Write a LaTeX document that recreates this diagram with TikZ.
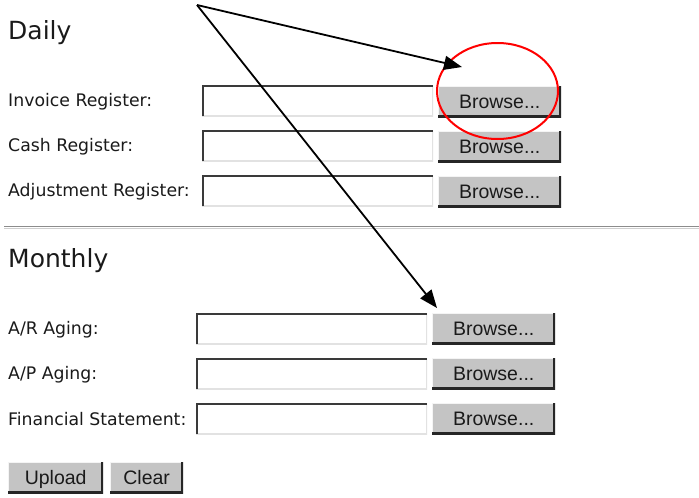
\documentclass[tikz,border=0pt]{standalone}
\usepackage{fontspec}
\setmainfont{DejaVu Sans}
\newfontfamily\btnfont{Liberation Sans}
\usetikzlibrary{arrows.meta,shapes.geometric}
\definecolor{fielddark}{HTML}{3A3A3A}
\definecolor{fieldlight}{HTML}{E2E2E2}
\definecolor{btngray}{HTML}{C4C4C4}
\definecolor{btnlight}{HTML}{F4F4F4}
\definecolor{sepdark}{HTML}{8C8C8C}
\definecolor{seplight}{HTML}{CFCFCF}
\definecolor{txt}{HTML}{1A1A1A}
\begin{document}
\begin{tikzpicture}[x=1pt,y=-1pt,
  heading/.style={anchor=base west,inner sep=0,text=txt,font=\fontsize{25}{29}\selectfont},
  lbl/.style={anchor=base west,inner sep=0,text=txt,font=\fontsize{17.3}{20}\selectfont},
  field/.style={anchor=north west,inner sep=0,minimum width=231pt,minimum height=31pt,fill=white,
    path picture={
      \draw[line width=2.4pt,fieldlight] (path picture bounding box.south west) -- (path picture bounding box.south east) -- (path picture bounding box.north east);
      \draw[line width=4pt,fielddark] (path picture bounding box.south west) -- (path picture bounding box.north west) -- (path picture bounding box.north east);
    }},
  btn/.style={anchor=north west,inner sep=0,minimum height=31pt,fill=btngray,text=txt,
    font=\btnfont\fontsize{19.5}{22}\selectfont,text height=13.8pt,text depth=0pt,
    path picture={
      \draw[line width=2.4pt,btnlight] (path picture bounding box.south west) -- (path picture bounding box.north west) -- (path picture bounding box.north east);
      \draw[line width=4pt,black!85] (path picture bounding box.south west) -- (path picture bounding box.south east) -- (path picture bounding box.north east);
    }},
  browse/.style={btn,minimum width=123pt},
  pointer/.style={draw=black,line width=1.8pt,-{Triangle[length=18pt,width=14pt]}},
  ring/.style={ellipse,draw=red,line width=2pt,inner sep=0}
]
\useasboundingbox (0,0) rectangle (699,498);

% Daily section
\node[heading] (daily) at (8,39) {Daily};
\node[lbl] (l1) at (8,106) {Invoice Register:};
\node[lbl] (l2) at (8,151) {Cash Register:};
\node[lbl] (l3) at (8,196) {Adjustment Register:};
\node[field] (f1) at (202,85) {};
\node[field] (f2) at (202,130) {};
\node[field] (f3) at (202,175) {};
\node[browse] (b1) at (438,86) {Browse...};
\node[browse] (b2) at (438,131) {Browse...};
\node[browse] (b3) at (438,176) {Browse...};

% separator
\draw[line width=1.6pt,sepdark] (4,226.5) -- (699,226.5);
\draw[line width=1.2pt,seplight] (4,228.3) -- (699,228.3);

% Monthly section
\node[heading] (monthly) at (8,267) {Monthly};
\node[lbl] (m1) at (8,334) {A/R Aging:};
\node[lbl] (m2) at (8,379) {A/P Aging:};
\node[lbl] (m3) at (8,425) {Financial Statement:};
\node[field] (g1) at (196,313) {};
\node[field] (g2) at (196,358) {};
\node[field] (g3) at (196,403) {};
\node[browse] (c1) at (432,313) {Browse...};
\node[browse] (c2) at (432,358) {Browse...};
\node[browse] (c3) at (432,403) {Browse...};

% action buttons
\node[btn,minimum width=95pt] (upload) at (8,462) {Upload};
\node[btn,minimum width=73pt] (clear) at (110,462) {Clear};

% highlight ellipse
\node[ring,minimum width=121pt,minimum height=96pt] (circ) at (497.5,91) {};

% pointers
\coordinate (src) at (197,5);
\coordinate (tipA) at (462,67);
\coordinate (tipB) at (437,308);
\draw[pointer] (src) -- (tipA);
\draw[pointer] (src) -- (tipB);
\end{tikzpicture}
\end{document}
